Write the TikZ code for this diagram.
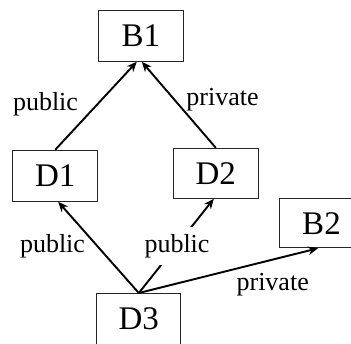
\documentclass[tikz,border=0pt]{standalone}
\usepackage{fontspec}
\setmainfont{Liberation Serif}
\usetikzlibrary{arrows.meta}
\begin{document}
\begin{tikzpicture}[x=1pt,y=-1pt,
  cls/.style={draw=black!85,line width=1pt,minimum width=85pt,minimum height=51pt,inner sep=0pt,
    font=\fontsize{33}{36}\selectfont},
  inh/.style={line width=1.9pt,-{Stealth[length=10pt,width=8.5pt]}},
  lbl/.style={anchor=base,inner sep=0pt,font=\fontsize{26}{28}\selectfont}]
\useasboundingbox (0,0) rectangle (351,343);
\clip (0,0) rectangle (351,343);
\node[cls] (B1) at (140.8,35.8) {B1};
\node[cls] (D1) at (55.2,175.8) {D1};
\node[cls,minimum height=50pt] (D2) at (215.8,173.3) {D2};
\node[cls,minimum height=49pt] (B2) at (321.5,223.3) {B2};
\node[cls,minimum width=84pt] (D3) at (138.8,319) {D3};
\draw[inh] (D1.north) -- ([xshift=-4pt]B1.south);
\draw[inh] (D2.north) -- ([xshift=1pt]B1.south);
\draw[inh] (D3.north) -- ([xshift=3pt]D1.south);
\draw[inh] (D3.north) -- ([xshift=-2pt]D2.south);
\draw[inh] (D3.north) -- ([xshift=-3.5pt]B2.south);
\node[lbl] (l1) at (45.5,110) {public};
\node[lbl] (l2) at (222.5,105) {private};
\node[lbl] (l3) at (52.5,252) {public};
\node[lbl,fill=white,inner xsep=3pt,inner ysep=7pt] (l4) at (177,252) {public};
\node[lbl] (l5) at (272.7,290.7) {private};
\end{tikzpicture}
\end{document}
